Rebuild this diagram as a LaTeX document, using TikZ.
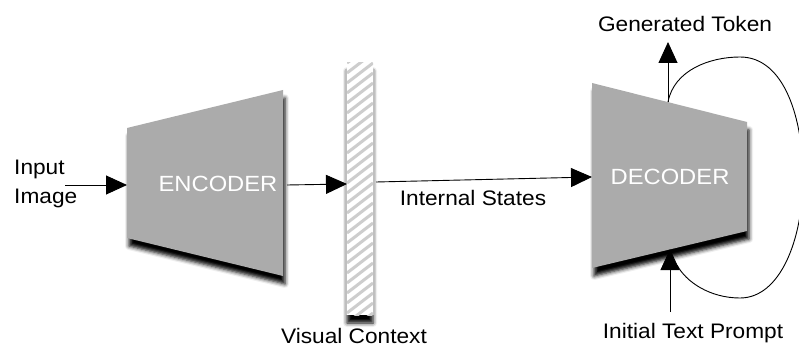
\documentclass[tikz,border=0pt]{standalone}
\usepackage{fontspec}
\setmainfont{Liberation Sans}[FakeStretch=1.08]
\usetikzlibrary{arrows.meta,shadows.blur}
\definecolor{blockgray}{RGB}{171,171,171}
\definecolor{stripegray}{RGB}{205,205,205}
\begin{document}
\begin{tikzpicture}[x=1pt,y=-1pt,
		font=\fontsize{21}{29}\selectfont,
		conn/.style={black,line width=0.9pt,-{Triangle[length=21pt,width=19pt,fill=black]}},
		loop/.style={black,line width=0.9pt},
		block/.style={fill=blockgray,blur shadow={shadow xshift=2pt,shadow yshift=-8pt,shadow opacity=100,shadow blur radius=4pt}},
		blocklabel/.style={text=white,anchor=base,inner sep=0pt,font=\fontsize{22}{26}\selectfont},
		lbl/.style={anchor=base,inner sep=0pt}]
		\useasboundingbox (0,0) rectangle (799,347);
		\newcommand{\barLeft}{347}
		\newcommand{\barRight}{373}
		\newcommand{\barTop}{63}
		\newcommand{\barBottom}{315}
		
		\fill[block] (127,128) -- (283,90) -- (283,276) -- (127,238) -- cycle;	% encoder
		\fill[block] (592,83) -- (747,122) -- (747,231) -- (592,268) -- cycle;	% decoder
		
		% visual context bar
		\fill[white,blur shadow={shadow xshift=0pt,shadow yshift=-8pt,shadow opacity=100,shadow blur radius=4pt}] (\barLeft,\barTop) rectangle (\barRight,\barBottom);
		\begin{scope}
			\clip (\barLeft,\barTop) rectangle (\barRight,\barBottom);
			\foreach \k in {-3,...,28}
				\draw[stripegray,line width=3pt] (\barLeft,\barTop+\k*10) -- ++(26,-20);
		\end{scope}
		\draw[black!25,line width=1.5pt] (\barLeft-1,\barTop+6) -- (\barLeft-1,\barBottom);	% left edge shade
		\draw[black!25,line width=1.5pt] (\barRight+1,\barTop+6) -- (\barRight+1,\barBottom);	% right edge shade
		
		% labels
		\node[lbl,align=left,anchor=north west] (input) at (14,160) {Input\\Image};
		\node[blocklabel] (encoder) at (218,192) {ENCODER};
		\node[blocklabel] (decoder) at (670,185) {DECODER};
		\node[lbl] (context) at (354,343) {Visual Context};
		\node[lbl] (states) at (473,205) {Internal States};
		\node[lbl] (token) at (685,32) {Generated Token};
		\node[lbl] (prompt) at (693,338) {Initial Text Prompt};
		
		% connection points
		\coordinate (in-start) at (65,185);
		\coordinate (enc-in) at (127,185);
		\coordinate (enc-out) at (287,185);
		\coordinate (bar-in) at (\barLeft,184);
		\coordinate (bar-out) at (376,182);
		\coordinate (dec-in) at (592,177);
		\coordinate (dec-top) at (668,102);
		\coordinate (token-tip) at (668,42);
		\coordinate (prompt-start) at (670,312);
		\coordinate (dec-bottom) at (670,249);
		\coordinate (loop-end) at (677,265);
		
		% arrows
		\draw[conn] (in-start) -- (enc-in);
		\draw[conn] (enc-out) -- (bar-in);
		\draw[conn] (bar-out) -- (dec-in);
		\draw[conn] (dec-top) -- (token-tip);
		\draw[conn] (prompt-start) -- (dec-bottom);
		
		% feedback loop
		\draw[loop] (dec-top) .. controls (674,70) and (710,57) .. (740,57)
			.. controls (785,57) and (803,120) .. (803,177)
			.. controls (803,240) and (780,298) .. (740,298)
			.. controls (710,298) and (686,282) .. (loop-end);
\end{tikzpicture}
\end{document}
